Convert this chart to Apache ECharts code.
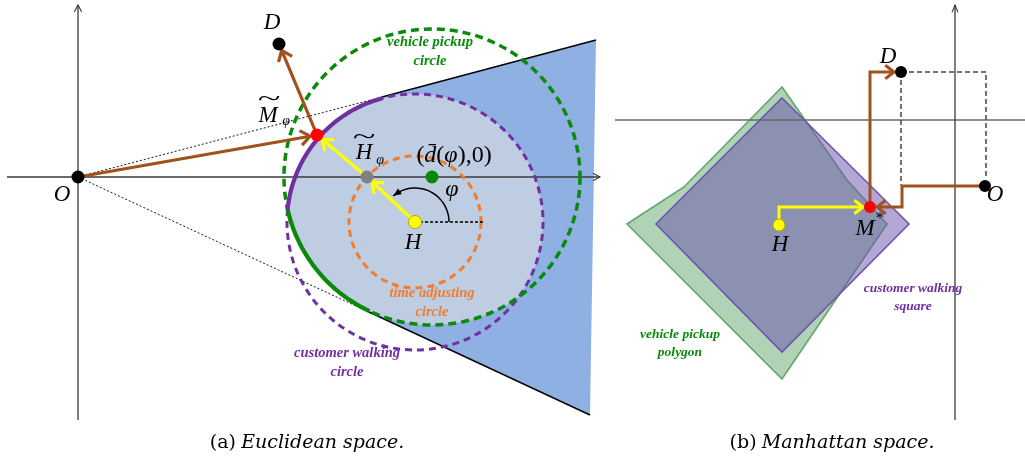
<!DOCTYPE html>
<html><head><meta charset="utf-8">
<script src="https://cdn.jsdelivr.net/npm/echarts@6/dist/echarts.min.js"></script>
<style>html,body{margin:0;padding:0;background:#fff}#c{width:1025px;height:461px}</style>
</head><body><div id="c"></div>
<script>
// ================= DATA (1 unit = one tenth of the drawing's pixel grid) =================
// ---- Panel (a): Euclidean space, origin at O ----
const xAxisLineA = [[-7.1, 0], [52.2, 0]];
const yAxisLineA = [[0, -24.3], [0, 17.2]];
const pointNamesA = ['O', 'D', 'M~', 'H~', 'dbar', 'H'];
const pointsA = [[0, 0], [20.1, 13.3], [23.9, 4.2], [28.9, 0], [35.4, 0], [33.7, -4.5]];
const circleNamesA = ['time adjusting', 'customer walking', 'vehicle pickup'];
const circlesA = [[33.7, -4.5, 6.6], [33.7, -4.5, 12.8], [35.4, 0, 14.8]]; // cx, cy, r
const coneEndsA = [[51.8, 13.7], [51.2, -23.8]];
const tangentPtsA = [[30.4, 8.0], [29.1, -13.5]];
const lensPtsA = [[21.0, -3.3], [44.1, -12.0]];
const brownPathsA = [[[0, 0], [23.9, 4.2]], [[23.9, 4.2], [20.1, 13.3]]];
const yellowPathsA = [[[33.7, -4.5], [28.9, 0]], [[28.9, 0], [23.9, 4.2]]];
const angleArcA = [33.7, -4.5, 3.4, 0, 130]; // cx, cy, r, from deg, to deg
const refLineA = [[33.7, -4.5], [40.5, -4.5]];
const lettersA = [['D', 19.4, 15.4], ['O', -1.6, -1.8], ['M', 19.0, 6.1], ['H', 28.6, 2.4], ['H', 33.5, -6.6]];
const tildesA = [[19.1, 7.8], [28.6, 4.0]];
const subsA = [['φ', 20.8, 5.6], ['φ', 30.2, 1.7]];
const mathA = [['({i|d̄}({i|φ}),0)', 37.6, 2.1], ['{i|φ}', 37.4, -1.3]];
const greenTextA = [['vehicle pickup', 35.2, 13.5], ['circle', 35.2, 11.6]];
const orangeTextA = [['time adjusting', 35.4, -11.6], ['circle', 35.4, -13.5]];
const purpleTextA = [['customer walking', 26.9, -17.6], ['circle', 26.9, -19.5]];

// ---- Panel (b): Manhattan space, origin at the axes crossing ----
const xAxisLineB = [[-34, 0], [7, 0]];
const yAxisLineB = [[0, -30], [0, 11.5]];
const pointNamesB = ['O', 'D', 'M*', 'H'];
const pointsB = [[3.0, -6.6], [-5.4, 4.8], [-8.5, -8.7], [-17.6, -10.5]];
const pickupPolygonB = [[-17.3, 3.3], [-10.8, -6.0], [-6.8, -10.4], [-17.3, -25.9], [-32.8, -10.4], [-27.1, -6.7]];
const walkingSquareB = [[-17.3, 2.2], [-4.6, -10.4], [-17.3, -23.2], [-29.9, -10.4]];
const brownPathsB = [[[3.0, -6.6], [-5.3, -6.6], [-5.3, -8.7], [-8.5, -8.7]], [[-8.5, -8.7], [-8.5, 4.8], [-5.4, 4.8]]];
const yellowPathsB = [[[-17.6, -10.5], [-17.6, -8.7], [-8.5, -8.7]]];
const dashedPathsB = [[[-5.4, 4.8], [3.1, 4.8], [3.1, -5.6]], [[-5.4, 4.8], [-5.4, -6.5]]];
const lettersB = [['D', -6.7, 6.3], ['O', 4.0, -7.5], ['M', -9.0, -10.9], ['H', -17.5, -12.5]];
const supsB = [['*', -7.5, -9.9]];
const purpleTextB = [['customer walking', -4.2, -16.9], ['square', -4.2, -18.7]];
const greenTextB = [['vehicle pickup', -27.5, -21.5], ['polygon', -27.5, -23.3]];

const captionA = ['(a)', 'Euclidean space.'];
const captionB = ['(b)', 'Manhattan space.'];

// ================= STYLES =================
const C = {
  axis: '#3a3a3a', brown: '#A0511C', yellow: '#FFFF00', purple: '#7030A0', green: '#0A8A0A',
  orange: '#ED7D31', lightBlue: '#BFCDE2', darkBlue: '#8EB0E2'
};
const pointColorsA = ['#000', '#000', '#FF0000', '#808080', '#078A07', '#FFFF00'];
const pointColorsB = ['#000', '#000', '#FF0000', '#FFFF00'];
const SERIF = '"Liberation Serif","DejaVu Serif",serif';
const CAPFONT = '"DejaVu Serif","Liberation Serif",serif';

// ================= HELPERS =================
function angOf(c, p) { return Math.atan2(p[1] - c[1], p[0] - c[0]) * 180 / Math.PI; }
function arcPts(c, r, a0, a1, n) {
  const out = [];
  for (let i = 0; i <= n; i++) {
    const a = (a0 + (a1 - a0) * i / n) * Math.PI / 180;
    out.push([c[0] + r * Math.cos(a), c[1] + r * Math.sin(a)]);
  }
  return out;
}
function arcBetween(c, r, pFrom, pTo, dir, n) {
  const a0 = angOf(c, pFrom); let a1 = angOf(c, pTo);
  if (dir < 0 && a1 > a0) a1 -= 360;
  if (dir > 0 && a1 < a0) a1 += 360;
  return arcPts(c, r, a0, a1, n || 60);
}
function head(p1, p2, len, ang) {
  const d = Math.atan2(p2[1] - p1[1], p2[0] - p1[0]), a = ang * Math.PI / 180;
  return [[p2[0] - len * Math.cos(d - a), p2[1] - len * Math.sin(d - a)], p2,
          [p2[0] - len * Math.cos(d + a), p2[1] - len * Math.sin(d + a)]];
}
function shortenEnd(p1, p2, s) {
  const dx = p2[0] - p1[0], dy = p2[1] - p1[1], L = Math.hypot(dx, dy);
  return [p2[0] - dx / L * s, p2[1] - dy / L * s];
}
function line(pts, stroke, w, dash) {
  return { type: 'polyline', shape: { points: pts }, style: { fill: 'none', stroke: stroke, lineWidth: w, lineDash: dash || null, lineJoin: 'miter' } };
}
function arrowEls(api, path, stroke, w, shorten, hl, ha) {
  const px = path.map(p => api.coord(p));
  const n = px.length;
  px[n - 1] = shortenEnd(px[n - 2], px[n - 1], shorten);
  return [line(px, stroke, w), line(head(px[n - 2], px[n - 1], hl, ha), stroke, w)];
}
function txt(api, p, text, font, fill, extra) {
  const q = api.coord(p);
  return {
    type: 'text', x: q[0], y: q[1],
    style: Object.assign({ text: text, font: font, fill: fill, align: 'center', verticalAlign: 'middle', textAlign: 'center', textVerticalAlign: 'middle' }, extra || {})
  };
}
function custom(gridIdx, data, render, z) {
  return { type: 'custom', xAxisIndex: gridIdx, yAxisIndex: gridIdx, data: data, z: z || 2, silent: true, animation: false,
           renderItem: function (params, api) { return { type: 'group', children: render(api, params.dataIndex) }; } };
}

// ================= PANEL (a) LAYERS =================
const sA = [];
sA.push(custom(0, [0], function (api) {
  const G = circlesA[2], Hc = circlesA[1];
  const cG = [G[0], G[1]], cH = [Hc[0], Hc[1]];
  const dark = [tangentPtsA[0], coneEndsA[0], coneEndsA[1], tangentPtsA[1]]
    .concat(arcBetween(cG, G[2], tangentPtsA[1], lensPtsA[0], -1))
    .concat(arcBetween(cH, Hc[2], lensPtsA[0], tangentPtsA[0], -1));
  const lens = arcBetween(cH, Hc[2], lensPtsA[0], lensPtsA[1], -1, 120)
    .concat(arcBetween(cG, G[2], lensPtsA[1], lensPtsA[0], -1, 80));
  return [
    { type: 'polygon', shape: { points: dark.map(p => api.coord(p)) }, style: { fill: C.darkBlue, stroke: 'none' } },
    { type: 'polygon', shape: { points: lens.map(p => api.coord(p)) }, style: { fill: C.lightBlue, stroke: 'none' } }
  ];
}, 1));
sA.push(custom(0, [0], function (api) {
  const x = xAxisLineA.map(p => api.coord(p)), y = yAxisLineA.map(p => api.coord(p));
  return [line(x, C.axis, 1.3), line(head(x[0], x[1], 8, 28), C.axis, 1.1),
          line(y, C.axis, 1.3), line(head(y[0], y[1], 8, 28), C.axis, 1.1)];
}, 2));
sA.push(custom(0, [0], function (api) {
  const o = api.coord(pointsA[0]);
  return [line([o, api.coord(tangentPtsA[0])], '#000', 0.9, [2, 2]),
          line([o, api.coord(tangentPtsA[1])], '#000', 0.9, [2, 2]),
          line([api.coord(tangentPtsA[0]), api.coord(coneEndsA[0])], '#000', 1.4),
          line([api.coord(tangentPtsA[1]), api.coord(coneEndsA[1])], '#000', 1.4)];
}, 3));
const circleStyles = [[C.orange, 3, [7, 5]], [C.purple, 3, [7, 5]], [C.green, 3.5, [8, 5]]];
sA.push(custom(0, circlesA, function (api, i) {
  const c = api.coord([api.value(0), api.value(1)]);
  const r = api.size([api.value(2), 0])[0];
  const st = circleStyles[i];
  return [{ type: 'circle', shape: { cx: c[0], cy: c[1], r: r }, style: { fill: 'none', stroke: st[0], lineWidth: st[1], lineDash: st[2] } }];
}, 4));
sA.push(custom(0, [0], function (api) {
  const G = circlesA[2], Hc = circlesA[1];
  const pArc = arcBetween([Hc[0], Hc[1]], Hc[2], lensPtsA[0], tangentPtsA[0], -1).map(p => api.coord(p));
  const gArc = arcBetween([G[0], G[1]], G[2], lensPtsA[0], tangentPtsA[1], 1).map(p => api.coord(p));
  return [line(pArc, C.purple, 4.2), line(gArc, C.green, 4.2)];
}, 5));
sA.push(custom(0, [0], function (api) {
  const arc = arcPts([angleArcA[0], angleArcA[1]], angleArcA[2], angleArcA[3], angleArcA[4], 40).map(p => api.coord(p));
  const n = arc.length;
  return [line(refLineA.map(p => api.coord(p)), '#000', 1.4, [3, 2]),
          line(arc, '#000', 1.5),
          { type: 'polygon', shape: { points: head(arc[n - 4], arc[n - 1], 9, 22) }, style: { fill: '#000', stroke: 'none' } }];
}, 6));
sA.push(custom(0, [0], function (api) {
  let els = [];
  brownPathsA.forEach(p => { els = els.concat(arrowEls(api, p, C.brown, 3.2, 7, 12, 38)); });
  yellowPathsA.forEach(p => { els = els.concat(arrowEls(api, p, C.yellow, 3.2, 7, 12, 38)); });
  return els;
}, 7));
sA.push({ type: 'scatter', xAxisIndex: 0, yAxisIndex: 0, z: 8, symbolSize: 13, silent: true, animation: false,
  data: pointsA.map((p, i) => ({ name: pointNamesA[i], value: p, itemStyle: { color: pointColorsA[i], opacity: 1, borderColor: i === 5 ? '#B5A800' : pointColorsA[i], borderWidth: i === 5 ? 1 : 0 } })) });
sA.push(custom(0, [0], function (api) {
  const f = 'italic 23px ' + SERIF, fb = 'italic bold 14.5px ' + SERIF;
  const els = [];
  lettersA.forEach(l => els.push(txt(api, [l[1], l[2]], l[0], f, '#000')));
  tildesA.forEach(t => { const e = txt(api, t, '~', '21px ' + SERIF, '#000'); e.scaleX = 2.0; els.push(e); });
  subsA.forEach(l => els.push(txt(api, [l[1], l[2]], l[0], 'italic 14px ' + SERIF, '#000')));
  mathA.forEach(l => els.push(txt(api, [l[1], l[2]], l[0], '24px ' + SERIF, '#000', { rich: { i: { fontStyle: 'italic', fontSize: 24, fontFamily: SERIF } } })));
  greenTextA.forEach(l => els.push(txt(api, [l[1], l[2]], l[0], fb, C.green)));
  orangeTextA.forEach(l => els.push(txt(api, [l[1], l[2]], l[0], fb, C.orange)));
  purpleTextA.forEach(l => els.push(txt(api, [l[1], l[2]], l[0], fb, C.purple)));
  return els;
}, 9));

// ================= PANEL (b) LAYERS =================
const sB = [];
sB.push(custom(1, [0], function (api) {
  return [
    { type: 'polygon', shape: { points: pickupPolygonB.map(p => api.coord(p)) }, style: { fill: '#B0D3B5', stroke: '#62A66C', lineWidth: 1.6 } },
    { type: 'polygon', shape: { points: walkingSquareB.map(p => api.coord(p)) }, style: { fill: 'rgba(105,79,173,0.5)', stroke: '#6A56B0', lineWidth: 1.6 } }
  ];
}, 1));
sB.push(custom(1, [0], function (api) {
  const x = xAxisLineB.map(p => api.coord(p)), y = yAxisLineB.map(p => api.coord(p));
  return [line(x, '#6a6a6a', 1.3), line(y, C.axis, 1.3), line(head(y[0], y[1], 8, 22), C.axis, 1.1)];
}, 2));
sB.push(custom(1, [0], function (api) {
  let els = [];
  dashedPathsB.forEach(p => els.push(line(p.map(q => api.coord(q)), '#444', 1.5, [5, 3])));
  brownPathsB.forEach(p => { els = els.concat(arrowEls(api, p, C.brown, 3, 7, 11, 38)); });
  yellowPathsB.forEach(p => { els = els.concat(arrowEls(api, p, C.yellow, 3, 7, 11, 38)); });
  return els;
}, 3));
sB.push({ type: 'scatter', xAxisIndex: 1, yAxisIndex: 1, z: 8, symbolSize: 12, silent: true, animation: false,
  data: pointsB.map((p, i) => ({ name: pointNamesB[i], value: p, itemStyle: { color: pointColorsB[i], opacity: 1, borderColor: i === 3 ? '#B5A800' : pointColorsB[i], borderWidth: i === 3 ? 1 : 0 } })) });
sB.push(custom(1, [0], function (api) {
  const f = 'italic 23px ' + SERIF, fb = 'italic bold 13.5px ' + SERIF;
  const els = [];
  lettersB.forEach(l => els.push(txt(api, [l[1], l[2]], l[0], f, '#000')));
  supsB.forEach(l => els.push(txt(api, [l[1], l[2]], l[0], '17px ' + SERIF, '#000')));
  purpleTextB.forEach(l => els.push(txt(api, [l[1], l[2]], l[0], fb, C.purple)));
  greenTextB.forEach(l => els.push(txt(api, [l[1], l[2]], l[0], fb, C.green)));
  return els;
}, 9));

// ================= CHART =================
const capRich = {
  u: { fontFamily: CAPFONT, fontSize: 19, fontWeight: 'normal', color: '#000' },
  i: { fontFamily: CAPFONT, fontSize: 19, fontWeight: 'normal', fontStyle: 'italic', color: '#000' }
};
const chart = echarts.init(document.getElementById('c'), null, { renderer: 'canvas' });
chart.setOption({
  animation: false,
  backgroundColor: '#fff',
  title: [
    { text: '{u|' + captionA[0] + '} {i|' + captionA[1] + '}', left: 302, top: 429, textAlign: 'center', textStyle: { fontWeight: 'normal', fontSize: 19, rich: capRich } },
    { text: '{u|' + captionB[0] + '} {i|' + captionB[1] + '}', left: 827, top: 429, textAlign: 'center', textStyle: { fontWeight: 'normal', fontSize: 19, rich: capRich } }
  ],
  grid: [
    { left: 8, top: 7, width: 600, height: 410 },
    { left: 615, top: 0, width: 410, height: 430 }
  ],
  xAxis: [
    { type: 'value', gridIndex: 0, min: -7, max: 53, show: false },
    { type: 'value', gridIndex: 1, min: -34, max: 7, show: false }
  ],
  yAxis: [
    { type: 'value', gridIndex: 0, min: -24, max: 17, show: false },
    { type: 'value', gridIndex: 1, min: -31, max: 12, show: false }
  ],
  series: sA.concat(sB)
});
</script></body></html>
